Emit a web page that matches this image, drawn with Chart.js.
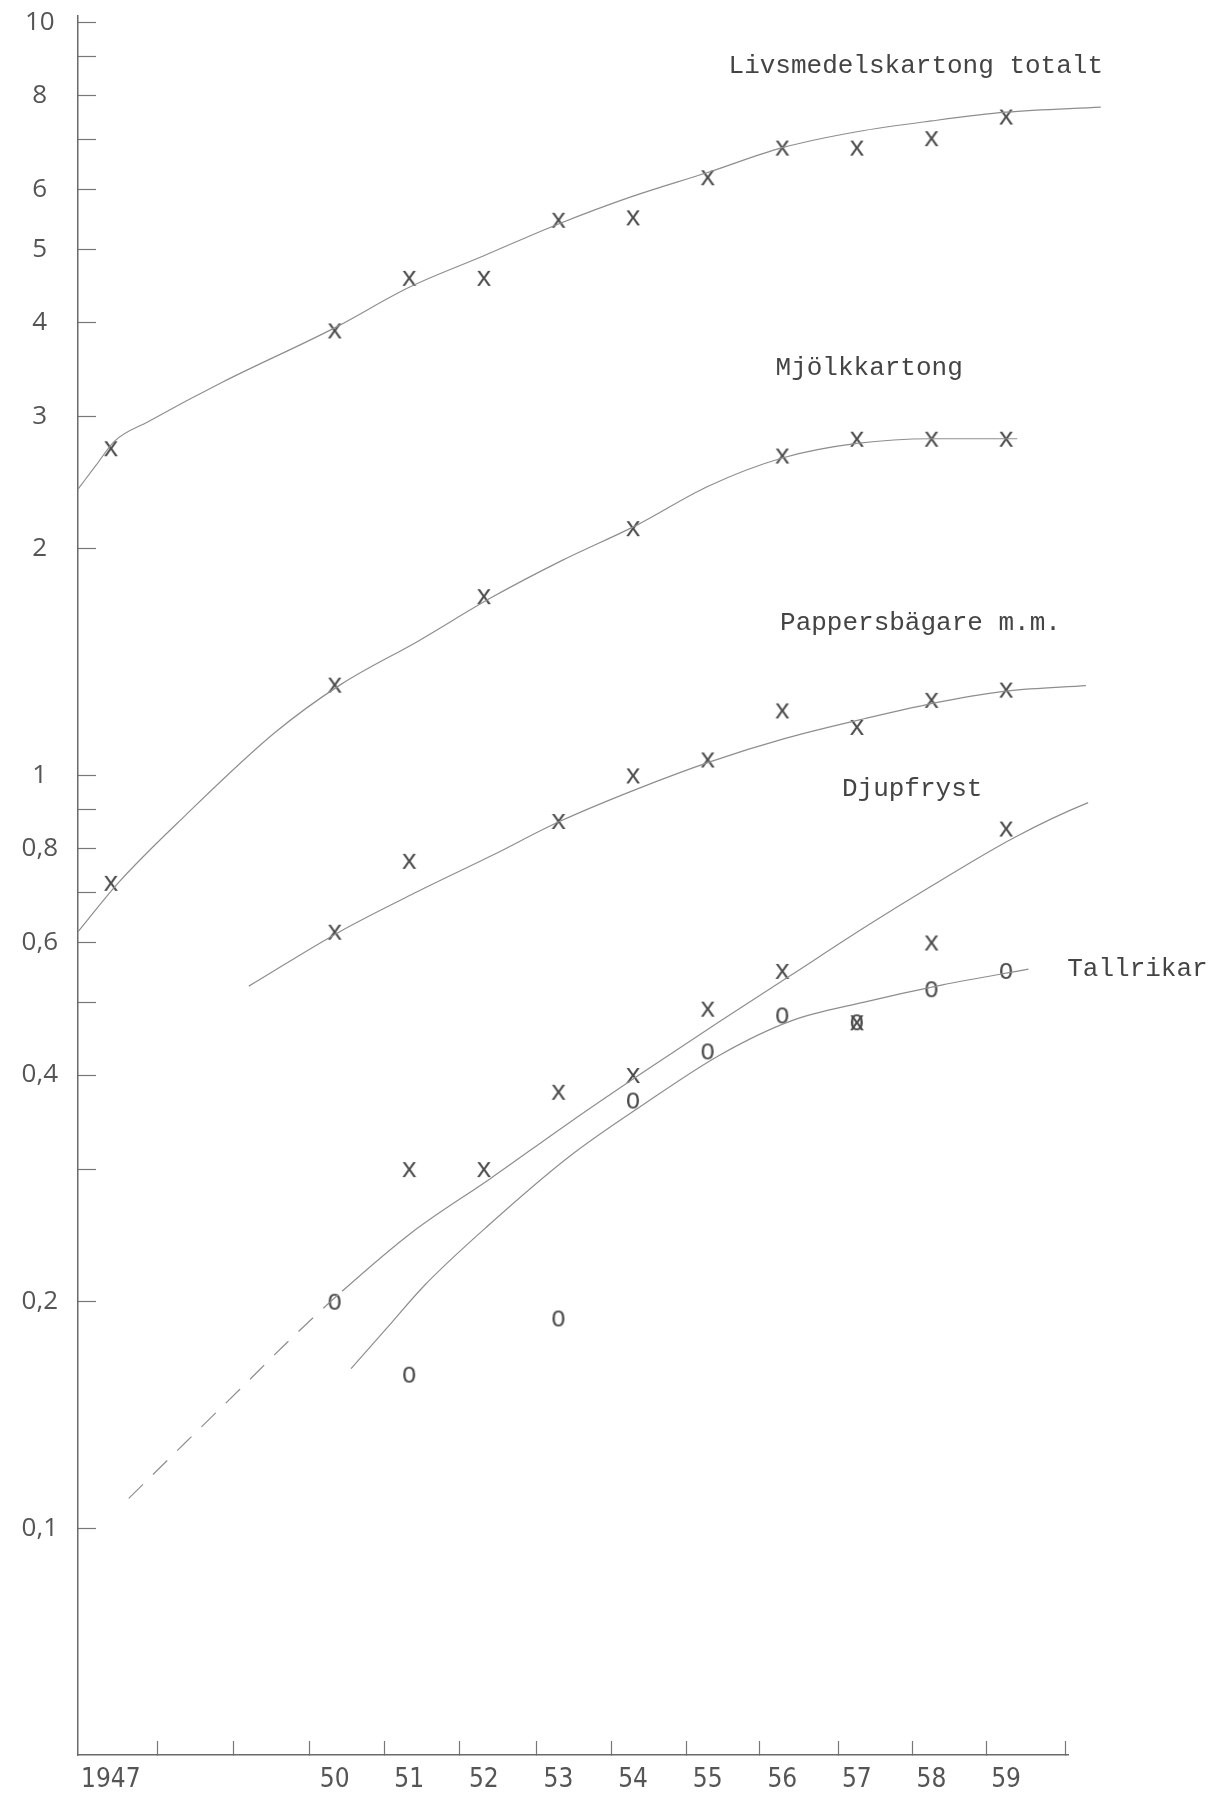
<!DOCTYPE html>
<html>
<head>
<meta charset="utf-8">
<script src="https://cdn.jsdelivr.net/npm/chart.js@4.4.1/dist/chart.umd.min.js"></script>
<style>
  html, body { margin: 0; padding: 0; background: #fff; }
  canvas { display: block; }
</style>
</head>
<body>
<canvas id="chart" width="1210" height="1795"></canvas>
<script>
// Axes
const xMin = 1946.56;
const xMax = 1959.83;
const xTickYears = [1947.63, 1948.65, 1949.66, 1950.67, 1951.68, 1952.7, 1953.71, 1954.71, 1955.7, 1956.75, 1957.74, 1958.74, 1959.79];
const xLabelYears = [1947, 1950, 1951, 1952, 1953, 1954, 1955, 1956, 1957, 1958, 1959];
const xLabelTexts = ['1947', '50', '51', '52', '53', '54', '55', '56', '57', '58', '59'];
const yTickValues = [10, 9, 8, 7, 6, 5, 4, 3, 2, 1, 0.9, 0.8, 0.7, 0.6, 0.5, 0.4, 0.3, 0.2, 0.1];
const yTickLabels = { 10: '10', 8: '8', 6: '6', 5: '5', 4: '4', 3: '3', 2: '2', 1: '1', 0.8: '0,8', 0.6: '0,6', 0.4: '0,4', 0.2: '0,2', 0.1: '0,1' };

// Livsmedelskartong totalt (x)
const livsYears = [1947, 1950, 1951, 1952, 1953, 1954, 1955, 1956, 1957, 1958, 1959];
const livsValues = [2.72, 3.90, 4.58, 4.58, 5.47, 5.51, 6.23, 6.82, 6.82, 7.02, 7.50];
const livsCurveYears = [1946.56, 1946.8, 1947.05, 1947.5, 1948.5, 1950.0, 1951.0, 1952.0, 1953.0, 1954.0, 1955.0, 1956.0, 1957.0, 1958.0, 1959.0, 1960.27];
const livsCurveValues = [2.40, 2.58, 2.78, 2.95, 3.33, 3.93, 4.45, 4.90, 5.40, 5.88, 6.32, 6.82, 7.16, 7.40, 7.60, 7.72];

// Mjölkkartong (x)
const mjolkYears = [1947, 1950, 1952, 1954, 1956, 1957, 1958, 1959];
const mjolkValues = [0.72, 1.32, 1.73, 2.13, 2.66, 2.80, 2.80, 2.80];
const mjolkCurveYears = [1946.56, 1947.1, 1948.0, 1949.2, 1950.08, 1951.13, 1952.09, 1953.05, 1954.05, 1955.0, 1956.0, 1957.0, 1958.0, 1959.15];
const mjolkCurveValues = [0.62, 0.72, 0.885, 1.14, 1.32, 1.51, 1.72, 1.93, 2.15, 2.42, 2.64, 2.76, 2.80, 2.80];

// Pappersbägare m.m. (x)
const papperYears = [1950, 1951, 1953, 1954, 1955, 1956, 1957, 1958, 1959];
const papperValues = [0.62, 0.77, 0.87, 1.00, 1.05, 1.22, 1.16, 1.26, 1.30];
const papperCurveYears = [1948.85, 1950.08, 1951.1, 1952.1, 1953.02, 1954.05, 1955.05, 1956.04, 1957.11, 1958.17, 1959.03, 1960.07];
const papperCurveValues = [0.525, 0.621, 0.70, 0.782, 0.869, 0.959, 1.044, 1.12, 1.19, 1.255, 1.295, 1.316];

// Djupfryst (x), dashed before 1950
const djupYears = [1951, 1952, 1953, 1954, 1955, 1956, 1957, 1958, 1959];
const djupValues = [0.30, 0.30, 0.38, 0.40, 0.49, 0.55, 0.47, 0.60, 0.85];
const djupCurveYears = [1947.24, 1948.0, 1948.73, 1949.4, 1950.1, 1951.03, 1952.1, 1953.15, 1954.13, 1955.16, 1956.12, 1957.1, 1958.0, 1959.1, 1960.1, 1961.16];
const djupCurveValues = [0.1096, 0.130, 0.153, 0.178, 0.2065, 0.247, 0.292, 0.346, 0.403, 0.471, 0.543, 0.628, 0.713, 0.826, 0.92, 1.0];
const djupDashedUntil = 1950.1;

// Tallrikar (o)
const tallrikYears = [1950, 1951, 1953, 1954, 1955, 1956, 1957, 1958, 1959];
const tallrikValues = [0.20, 0.16, 0.19, 0.37, 0.43, 0.48, 0.47, 0.52, 0.55];
const tallrikCurveYears = [1950.22, 1950.69, 1951.2, 1952.07, 1953.15, 1954.13, 1955.16, 1956.12, 1957.1, 1958.15, 1959.3];
const tallrikCurveValues = [0.163, 0.184, 0.21, 0.253, 0.312, 0.365, 0.425, 0.472, 0.50, 0.527, 0.553];

// Series names, anchored at (year, value) of the text baseline start
const labelNames = ['Livsmedelskartong totalt', 'Mjölkkartong', 'Pappersbägare m.m.', 'Djupfryst', 'Tallrikar'];
const labelYears = [1955.28, 1955.91, 1955.97, 1956.80, 1959.82];
const labelValues = [8.57, 3.40, 1.56, 0.94, 0.541];

const typeFont = '"Liberation Mono", "Courier New", monospace';
const lineColor = '#8e8e8e';

// typewriter glyphs used as point markers
function glyph(ch, size) {
  const c = document.createElement('canvas');
  c.width = 30; c.height = 30;
  const g = c.getContext('2d');
  g.font = size + 'px ' + typeFont;
  g.fillStyle = '#4a4a4a';
  g.textAlign = 'center';
  const m = g.measureText(ch);
  const h = m.actualBoundingBoxAscent + m.actualBoundingBoxDescent;
  g.fillText(ch, 15, 15 + m.actualBoundingBoxAscent - h / 2);
  return c;
}
const crossMark = glyph('x', 27);
const ringMark = glyph('O', 24);

const pts = (xs, ys) => xs.map((x, i) => ({ x: x, y: ys[i] }));

function curve(xs, ys, extra) {
  return Object.assign({
    data: pts(xs, ys),
    showLine: true,
    pointRadius: 0,
    borderColor: lineColor,
    borderWidth: 1.2,
    cubicInterpolationMode: 'monotone',
    clip: false
  }, extra || {});
}

function marks(xs, ys, style) {
  return {
    data: pts(xs, ys),
    showLine: false,
    pointStyle: style,
    pointRadius: 8,
    clip: false
  };
}

const seriesLabels = {
  id: 'seriesLabels',
  afterDatasetsDraw(chart) {
    const { ctx, scales: { x, y } } = chart;
    ctx.save();
    ctx.font = '26px ' + typeFont;
    ctx.fillStyle = '#444';
    ctx.textAlign = 'left';
    ctx.textBaseline = 'alphabetic';
    labelNames.forEach((name, i) => {
      ctx.fillText(name, x.getPixelForValue(labelYears[i]), y.getPixelForValue(labelValues[i]));
    });
    ctx.restore();
  }
};

const djupDashEnd = djupCurveYears.filter(v => v <= djupDashedUntil).length - 1;

new Chart(document.getElementById('chart'), {
  type: 'scatter',
  data: {
    datasets: [
      curve(livsCurveYears, livsCurveValues),
      curve(mjolkCurveYears, mjolkCurveValues),
      curve(papperCurveYears, papperCurveValues),
      curve(djupCurveYears, djupCurveValues, {
        borderDash: [],
        segment: { borderDash: c => (c.p1DataIndex <= djupDashEnd ? [20, 14] : undefined) }
      }),
      curve(tallrikCurveYears, tallrikCurveValues),
      marks(livsYears, livsValues, crossMark),
      marks(mjolkYears, mjolkValues, crossMark),
      marks(papperYears, papperValues, crossMark),
      marks(djupYears, djupValues, crossMark),
      marks(tallrikYears, tallrikValues, ringMark)
    ]
  },
  options: {
    responsive: false,
    devicePixelRatio: 1,
    animation: false,
    events: [],
    layout: { padding: { top: 16, right: 142, bottom: 0, left: 0 } },
    plugins: { legend: { display: false }, tooltip: { enabled: false } },
    scales: {
      x: {
        type: 'linear',
        position: 'bottom',
        weight: 1,
        min: xMin,
        max: xMax,
        afterBuildTicks: s => { s.ticks = xLabelYears.map(v => ({ value: v })); },
        afterFit: s => { s.height = 40; s.paddingLeft = 0; s.paddingRight = 0; },
        grid: { display: false },
        border: { display: false },
        ticks: {
          autoSkip: false,
          maxRotation: 0,
          padding: 2,
          color: '#555',
          font: { family: '"Liberation Sans Narrow", "DejaVu Sans Condensed", "Open Sans"', size: 26 },
          callback: (v, i) => xLabelTexts[i]
        }
      },
      xt: {
        type: 'linear',
        position: 'bottom',
        weight: 0,
        min: xMin,
        max: xMax,
        afterBuildTicks: s => { s.ticks = xTickYears.map(v => ({ value: v })); },
        afterFit: s => { s.height = 0; s.paddingLeft = 0; s.paddingRight = 0; },
        grid: { drawOnChartArea: false, drawTicks: true, tickLength: -14, tickColor: '#777', tickWidth: 1.2 },
        border: { color: '#6a6a6a', width: 1.5 },
        ticks: { display: false }
      },
      y: {
        type: 'logarithmic',
        min: 0.05,
        max: 10.2,
        afterBuildTicks: s => { s.ticks = yTickValues.map(v => ({ value: v })); },
        afterFit: s => { s.width = 78; s.paddingTop = 0; s.paddingBottom = 0; },
        grid: { drawOnChartArea: false, drawTicks: true, tickLength: -18, tickColor: '#777', tickWidth: 1.2 },
        border: { color: '#6a6a6a', width: 1.5 },
        ticks: {
          autoSkip: false,
          crossAlign: 'center',
          padding: 38,
          color: '#555',
          font: { family: '"Open Sans", "DejaVu Sans"', size: 26 },
          callback: v => (yTickLabels[v] !== undefined ? yTickLabels[v] : '')
        }
      }
    }
  },
  plugins: [seriesLabels]
});
</script>
</body>
</html>
